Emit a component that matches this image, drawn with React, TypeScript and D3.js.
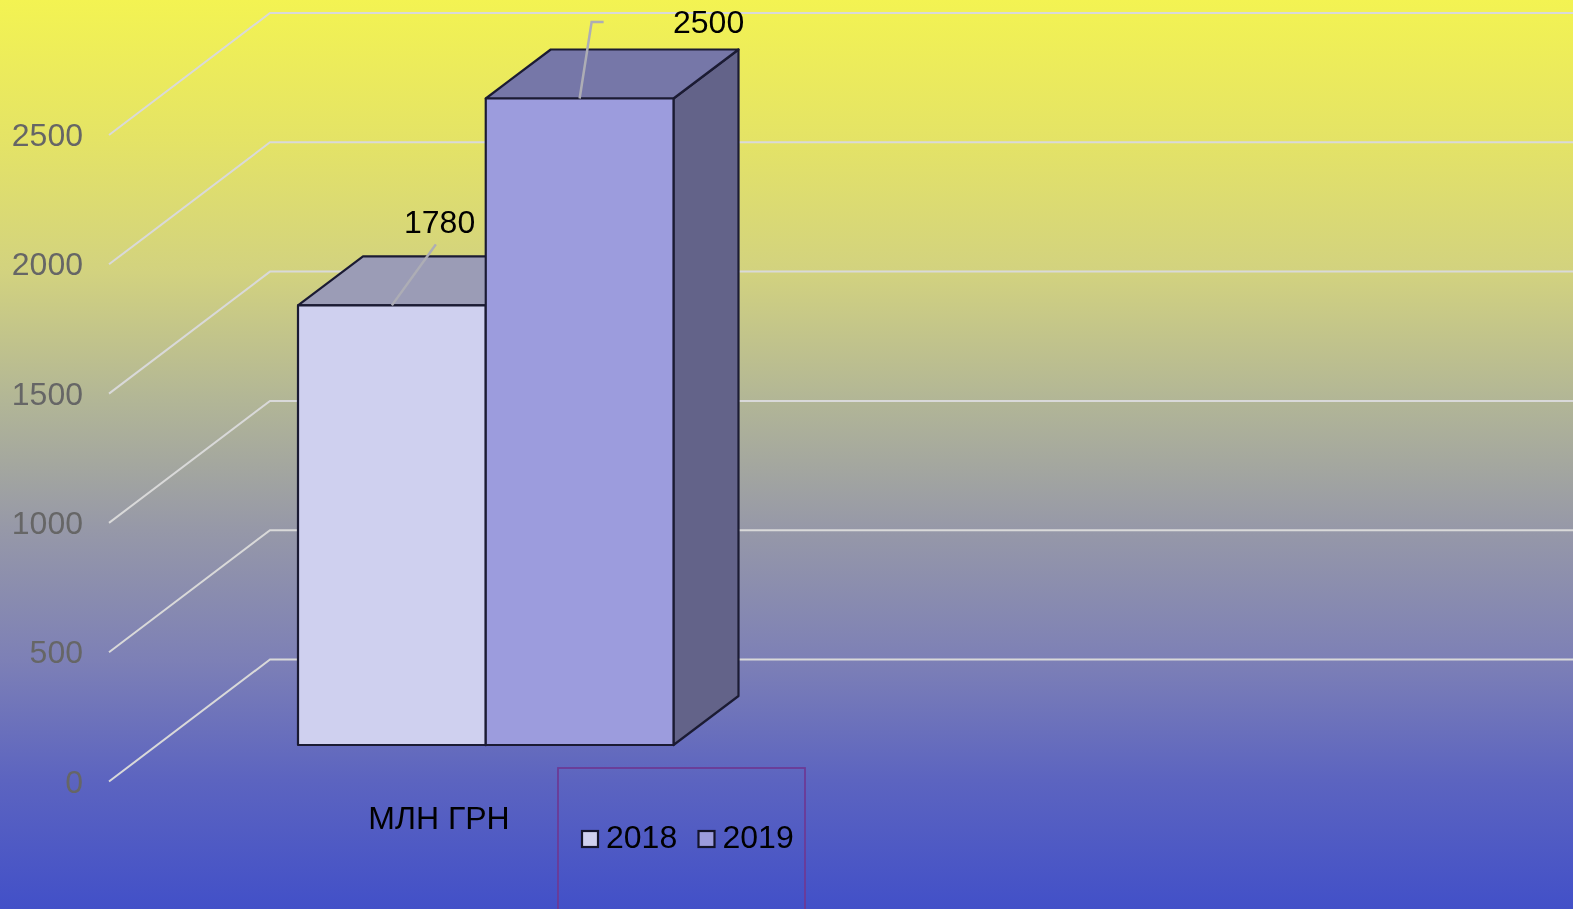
import { useEffect, useRef } from 'react'
import * as d3 from 'd3'

const width = 1573
const height = 909

const years = ['2018', '2019']
const valueLabels = ['1780', '2500']
const drawnValues = [1700, 2500]
const ticks = [0, 500, 1000, 1500, 2000, 2500]
const category = 'МЛН ГРН'

const frontColors = ['#cfd0ef', '#9c9cdd']
const topColors = ['#9b9cb6', '#7677a8']
const sideColors = ['#c0c0d8', '#636389']

// background colours read down the picture
const bgOffsets = [0, 0.155, 0.3, 0.44, 0.583, 0.726, 0.858, 1]
const bgColors = ['#f3f352', '#e4e366', '#d2d27f', '#b2b696', '#9698a8', '#7d80b6', '#5c64c0', '#4250c8']

const font = '"Liberation Sans", Arial, sans-serif'

export default function App() {
  const svgRef = useRef<SVGSVGElement>(null)

  useEffect(() => {
    if (!svgRef.current) return

    const svg = d3.select(svgRef.current)
    svg.selectAll('*').remove()

    // Background
    const defs = svg.append('defs')
    const grad = defs
      .append('linearGradient')
      .attr('id', 'bg')
      .attr('x1', 0)
      .attr('y1', 0)
      .attr('x2', 0)
      .attr('y2', 1)
    bgOffsets.forEach((o, i) => {
      grad.append('stop').attr('offset', o).attr('stop-color', bgColors[i])
    })

    // the reference is a slightly soft screenshot
    defs
      .append('filter')
      .attr('id', 'soft')
      .attr('x', 0)
      .attr('y', 0)
      .attr('width', width)
      .attr('height', height)
      .attr('filterUnits', 'userSpaceOnUse')
      .attr('color-interpolation-filters', 'sRGB')
      .append('feGaussianBlur')
      .attr('stdDeviation', 0.55)

    svg.append('rect').attr('width', width).attr('height', height).attr('fill', 'url(#bg)')

    const root = svg.append('g').attr('filter', 'url(#soft)')

    // Height of a value above the floor
    const rise = d3.scaleLinear().domain([0, 2500]).range([0, 646.5])

    // Axis labels and grid, the floor runs back from the front edge to the wall
    const wallFloor = { dx: 161, dy: -122 }
    const axisX = 109
    const axisY = 781.5

    ticks.forEach((t) => {
      const y = axisY - rise(t)
      const path = d3.path()
      path.moveTo(axisX, y)
      path.lineTo(axisX + wallFloor.dx, y + wallFloor.dy)
      path.lineTo(width, y + wallFloor.dy)
      root
        .append('path')
        .attr('d', path.toString())
        .attr('fill', 'none')
        .attr('stroke', '#d9d9d9')
        .attr('stroke-width', 2)

      root
        .append('text')
        .attr('x', 83)
        .attr('y', y + 11)
        .attr('text-anchor', 'end')
        .attr('font-family', font)
        .attr('font-size', 32)
        .attr('fill', '#666666')
        .text(t)
    })

    // Bars
    const xScale = d3.scaleBand().domain(years).range([298, 673.5])
    const baseY = 745
    const depth = { dx: 65, dy: -49 }
    const line = d3.line()

    years.forEach((year, i) => {
      const x0 = xScale(year) || 0
      const x1 = x0 + xScale.bandwidth()
      const top = baseY - rise(drawnValues[i])
      const g = root
        .append('g')
        .attr('stroke', '#1b1b33')
        .attr('stroke-width', 2.2)
        .attr('stroke-linejoin', 'round')

      g.append('path')
        .attr(
          'd',
          line([
            [x1, top],
            [x1 + depth.dx, top + depth.dy],
            [x1 + depth.dx, baseY + depth.dy],
            [x1, baseY],
          ]) + 'Z'
        )
        .attr('fill', sideColors[i])

      g.append('path')
        .attr(
          'd',
          line([
            [x0, top],
            [x0 + depth.dx, top + depth.dy],
            [x1 + depth.dx, top + depth.dy],
            [x1, top],
          ]) + 'Z'
        )
        .attr('fill', topColors[i])

      g.append('rect')
        .attr('x', x0)
        .attr('y', top)
        .attr('width', x1 - x0)
        .attr('height', baseY - top)
        .attr('fill', frontColors[i])
    })

    // Leader lines
    const topOf = (i: number) => baseY - rise(drawnValues[i])
    const midOf = (i: number) => (xScale(years[i]) || 0) + xScale.bandwidth() / 2
    const leaders: [number, number][][] = [
      [
        [midOf(0), topOf(0)],
        [midOf(0) + 44, topOf(0) - 61],
      ],
      [
        [midOf(1), topOf(1)],
        [midOf(1) + 12, topOf(1) - 76.5],
        [midOf(1) + 24, topOf(1) - 76.5],
      ],
    ]
    leaders.forEach((pts) => {
      root
        .append('path')
        .attr('d', line(pts))
        .attr('fill', 'none')
        .attr('stroke', '#adadb5')
        .attr('stroke-width', 2.5)
    })

    // Value labels
    const labelPos = [
      [404, 233],
      [673, 33],
    ]
    valueLabels.forEach((v, i) => {
      root
        .append('text')
        .attr('x', labelPos[i][0])
        .attr('y', labelPos[i][1])
        .attr('font-family', font)
        .attr('font-size', 32)
        .attr('fill', '#000')
        .text(v)
    })

    // Category label
    root
      .append('text')
      .attr('x', 439)
      .attr('y', 829)
      .attr('text-anchor', 'middle')
      .attr('font-family', font)
      .attr('font-size', 32)
      .attr('fill', '#000')
      .text(category)

    // Legend
    root
      .append('rect')
      .attr('x', 558)
      .attr('y', 768)
      .attr('width', 247)
      .attr('height', 150)
      .attr('fill', 'none')
      .attr('stroke', '#6c3a96')
      .attr('stroke-width', 1.8)

    years.forEach((year, i) => {
      const lx = 582 + i * 116.5
      root
        .append('rect')
        .attr('x', lx)
        .attr('y', 831)
        .attr('width', 16)
        .attr('height', 16)
        .attr('fill', frontColors[i])
        .attr('stroke', '#14142a')
        .attr('stroke-width', 2.2)
      root
        .append('text')
        .attr('x', lx + 24)
        .attr('y', 848)
        .attr('font-family', font)
        .attr('font-size', 32)
        .attr('fill', '#000')
        .text(year)
    })
  }, [])

  return (
    <svg
      ref={svgRef}
      width={width}
      height={height}
      style={{ position: 'absolute', left: 0, top: 0, display: 'block' }}
    />
  )
}
